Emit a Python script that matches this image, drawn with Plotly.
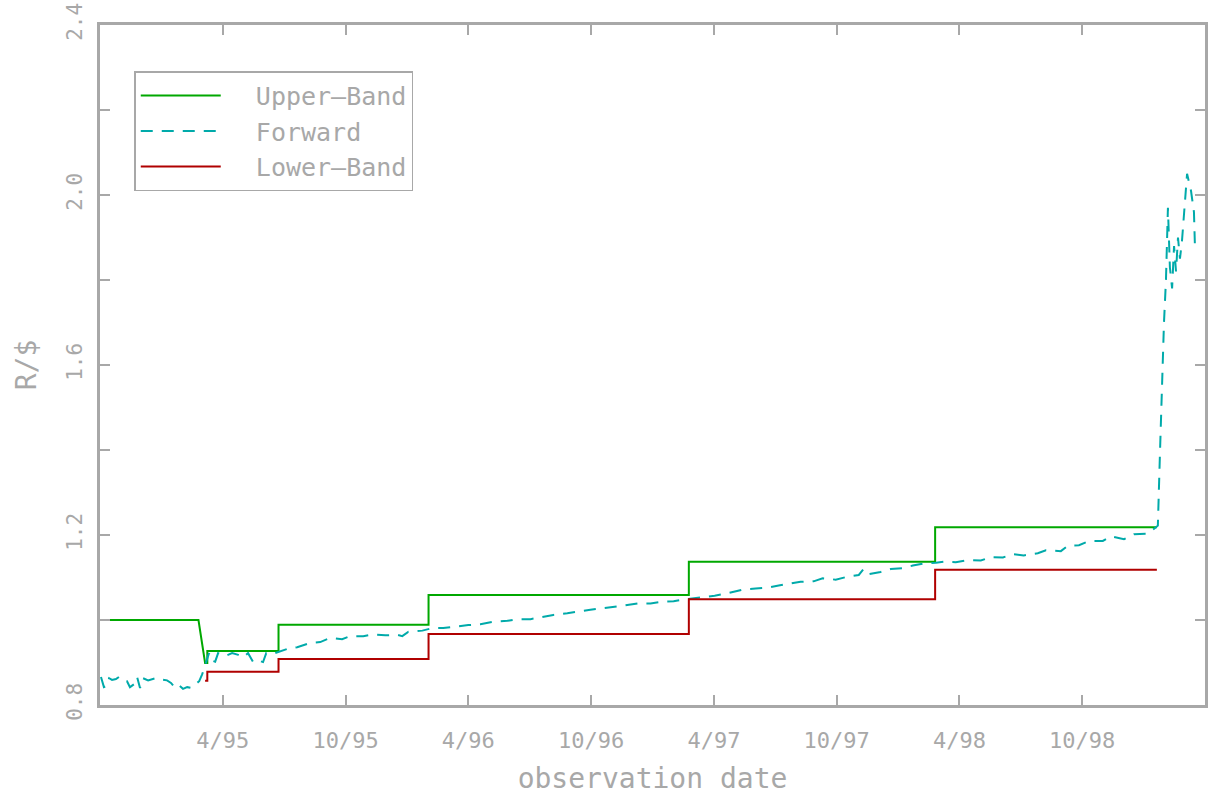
import plotly.graph_objects as go

# ---- data (x in decimal years, y in R/$) ----
upper_x = [1994.755, 1995.151, 1995.178, 1995.187, 1995.187, 1995.477, 1995.477,
           1996.088, 1996.088, 1997.148, 1997.148, 1998.151, 1998.151, 1999.054]
upper_y = [1.000, 1.000, 0.899, 0.899, 0.927, 0.927, 0.989,
           0.989, 1.059, 1.059, 1.137, 1.137, 1.218, 1.218]

lower_x = [1995.178, 1995.187, 1995.187, 1995.477, 1995.477, 1996.088, 1996.088,
           1997.148, 1997.148, 1998.151, 1998.151, 1999.054]
lower_y = [0.857, 0.857, 0.878, 0.878, 0.908, 0.908, 0.967,
           0.967, 1.049, 1.049, 1.118, 1.118]

forward_x = [
    1994.754, 1994.766, 1994.779, 1994.787, 1994.799, 1994.815, 1994.827, 1994.844,
    1994.860, 1994.872, 1994.889, 1994.901, 1994.913, 1994.925, 1994.946, 1994.962,
    1994.982, 1995.003, 1995.023, 1995.039, 1995.056, 1995.072, 1995.088, 1995.105,
    1995.121, 1995.137, 1995.154, 1995.166, 1995.178, 1995.186, 1995.194, 1995.202,
    1995.219, 1995.231, 1995.260, 1995.288, 1995.313, 1995.333, 1995.353, 1995.374,
    1995.394, 1995.414, 1995.427, 1995.451, 1995.476, 1995.496, 1995.524, 1995.553,
    1995.577, 1995.606, 1995.647, 1995.688, 1995.736, 1995.769, 1995.822, 1995.859,
    1995.912, 1995.961, 1995.981, 1996.005, 1996.063, 1996.103, 1996.148, 1996.185,
    1996.250, 1996.299, 1996.352, 1996.409, 1996.450, 1996.503, 1996.552, 1996.596,
    1996.653, 1996.694, 1996.747, 1996.788, 1996.841, 1996.882, 1996.939, 1996.992,
    1997.041, 1997.086, 1997.135, 1997.196, 1997.253, 1997.298, 1997.347, 1997.371,
    1997.420, 1997.469, 1997.514, 1997.563, 1997.603, 1997.656, 1997.693, 1997.746,
    1997.795, 1997.840, 1997.860, 1997.880, 1997.929, 1997.970, 1998.019, 1998.060,
    1998.105, 1998.154, 1998.186, 1998.235, 1998.288, 1998.337, 1998.378, 1998.427,
    1998.467, 1998.512, 1998.569, 1998.602, 1998.663, 1998.692, 1998.737, 1998.777,
    1998.834, 1998.867, 1998.920, 1998.961, 1999.018, 1999.050, 1999.058, 1999.067,
    1999.075, 1999.083, 1999.091, 1999.095, 1999.099, 1999.107, 1999.116, 1999.124,
    1999.132, 1999.140, 1999.148, 1999.156, 1999.165, 1999.177, 1999.185, 1999.193,
    1999.205, 1999.209,
]
forward_y = [
    0.866, 0.842, 0.845, 0.863, 0.859, 0.861, 0.866, 0.857,
    0.856, 0.842, 0.849, 0.866, 0.840, 0.863, 0.858, 0.861,
    0.864, 0.860, 0.858, 0.852, 0.840, 0.846, 0.838, 0.842,
    0.840, 0.848, 0.856, 0.872, 0.892, 0.910, 0.922, 0.905,
    0.902, 0.922, 0.915, 0.922, 0.918, 0.912, 0.922, 0.901,
    0.905, 0.901, 0.922, 0.920, 0.925, 0.930, 0.934, 0.936,
    0.940, 0.946, 0.948, 0.958, 0.955, 0.962, 0.962, 0.966,
    0.964, 0.965, 0.962, 0.972, 0.975, 0.981, 0.981, 0.984,
    0.988, 0.990, 0.996, 0.998, 1.002, 1.002, 1.008, 1.012,
    1.016, 1.020, 1.024, 1.027, 1.030, 1.034, 1.039, 1.039,
    1.043, 1.044, 1.049, 1.053, 1.057, 1.062, 1.069, 1.072,
    1.074, 1.076, 1.081, 1.085, 1.090, 1.091, 1.098, 1.095,
    1.102, 1.106, 1.120, 1.108, 1.113, 1.120, 1.122, 1.128,
    1.133, 1.135, 1.137, 1.136, 1.141, 1.140, 1.148, 1.147,
    1.155, 1.152, 1.157, 1.164, 1.162, 1.175, 1.176, 1.186,
    1.186, 1.197, 1.190, 1.202, 1.203, 1.218, 1.222, 1.400,
    1.560, 1.700, 1.800, 1.870, 1.970, 1.830, 1.780, 1.880,
    1.820, 1.900, 1.850, 1.890, 1.960, 2.050, 2.030, 2.010,
    1.960, 1.880,
]

x_tickvals = [1995.25, 1995.75, 1996.25, 1996.75, 1997.25, 1997.75, 1998.25, 1998.75]
x_ticktext = ["4/95", "10/95", "4/96", "10/96", "4/97", "10/97", "4/98", "10/98"]
y_tickvals = [0.8, 1.0, 1.2, 1.4, 1.6, 1.8, 2.0, 2.2, 2.4]
y_ticktext = ["0.8", "", "1.2", "", "1.6", "", "2.0", "", "2.4"]
series_names = ["\u00a0\u00a0Upper\u2013Band", "\u00a0\u00a0Forward", "\u00a0\u00a0Lower\u2013Band"]

GRAY = "#a8a8a8"
FONT = "DejaVu Sans Mono"

fig = go.Figure()
fig.add_trace(go.Scatter(x=upper_x, y=upper_y, mode="lines", name=series_names[0],
                         line=dict(color="#00a800", width=2)))
fig.add_trace(go.Scatter(x=forward_x, y=forward_y, mode="lines", name=series_names[1],
                         line=dict(color="#00aaaa", width=2, dash="12px,9px")))
fig.add_trace(go.Scatter(x=lower_x, y=lower_y, mode="lines", name=series_names[2],
                         line=dict(color="#b00000", width=2)))

axis_common = dict(showline=True, linecolor=GRAY, linewidth=3, mirror="ticks",
                   ticks="inside", ticklen=10, tickwidth=2, tickcolor=GRAY,
                   showgrid=False, zeroline=False, automargin=False,
                   ticklabeloverflow="allow")

fig.update_layout(
    width=1215, height=801,
    margin=dict(l=100, r=10, t=25, b=96),
    paper_bgcolor="white", plot_bgcolor="white",
    font=dict(family=FONT, color=GRAY),
    xaxis=dict(range=[1994.75, 1999.25], tickvals=x_tickvals, ticktext=x_ticktext,
               ticklabelstandoff=14,
               tickfont=dict(family=FONT, size=22, color=GRAY),
               title=dict(text="observation date", font=dict(family=FONT, size=28, color=GRAY),
                          standoff=16),
               **axis_common),
    yaxis=dict(range=[0.8, 2.4], tickvals=y_tickvals, ticktext=y_ticktext, tickangle=-90,
               ticklabelstandoff=7,
               tickfont=dict(family=FONT, size=21, color=GRAY),
               title=dict(text="R/$", font=dict(family=FONT, size=28, color=GRAY), standoff=18),
               **axis_common),
    legend=dict(x=0.031, y=0.932, xanchor="left", yanchor="top",
                bgcolor="white", bordercolor=GRAY, borderwidth=1.5,
                font=dict(family=FONT, size=25, color=GRAY),
                itemwidth=80, tracegroupgap=0),
    showlegend=True,
)

fig.write_html("out.html", config={"displayModeBar": False},
               post_script="document.body.style.margin='0px';")
